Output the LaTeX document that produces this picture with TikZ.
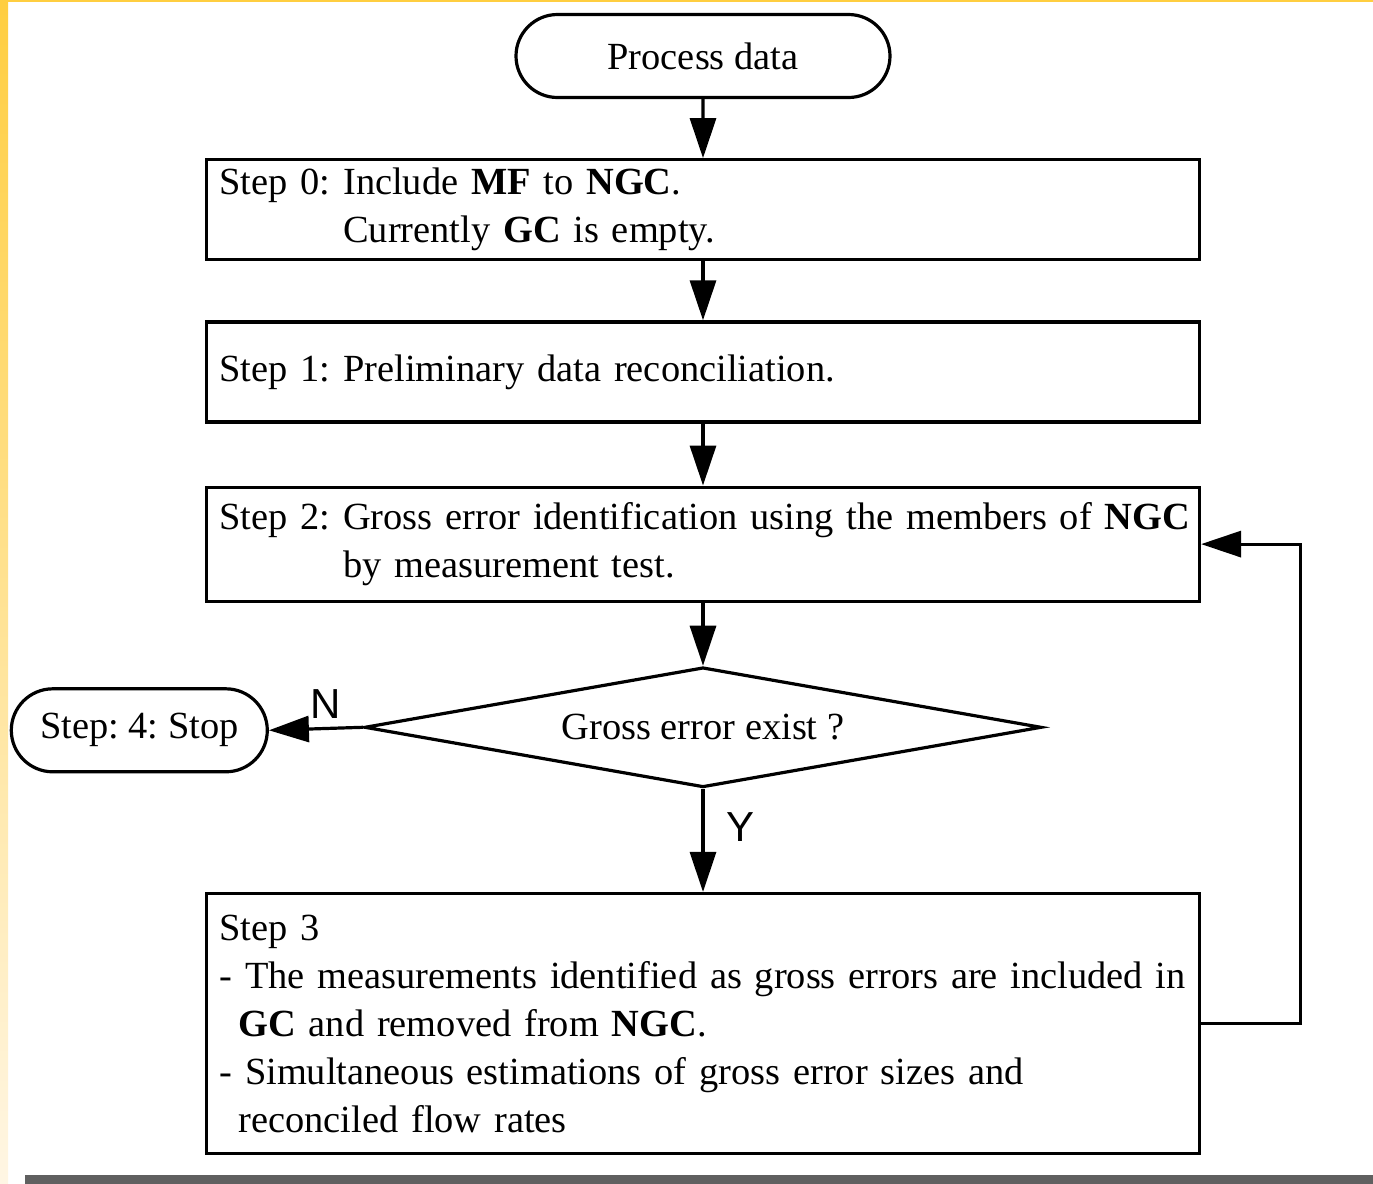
\documentclass[tikz,border=0pt]{standalone}
\usepackage{fontspec}
\setmainfont{Liberation Serif}
\newfontfamily\labelfont{Liberation Sans}
\usetikzlibrary{arrows.meta,positioning,shapes.geometric,shapes.misc}
\usepackage{xcolor}
\definecolor{FrameYellow}{RGB}{255,206,64}
\definecolor{FadeYellow}{RGB}{255,246,228}
\definecolor{BarGray}{RGB}{96,96,96}
\frenchspacing
\tikzset{
  terminal/.style={draw, rounded rectangle, line width=1.6pt,
    minimum height=41.5pt, inner sep=0pt, font=\fontsize{19.2}{24}\selectfont},
  stepbox/.style={draw, rectangle, line width=1.6pt, inner xsep=6.5pt,
    inner ysep=0pt, text width=483.5pt, align=left,
    font=\fontsize{19.2}{24}\selectfont},
  decision/.style={draw, diamond, line width=1.6pt, aspect=5.6, inner sep=0pt,
    minimum width=338.5pt, minimum height=60pt,
    font=\fontsize{19.2}{24}\selectfont},
  flowlabel/.style={inner sep=0pt, font=\labelfont\fontsize{21}{24}\selectfont},
  arrow/.style={-{Triangle[length=20pt,width=13pt]}, line width=1.6pt}
}

\begin{document}
\begin{tikzpicture}[x=0.5pt, y=-0.5pt, node distance=29.5pt]
  \useasboundingbox (0,0) rectangle (1373,1184);
  % frame of the slide
  \shade[top color=FrameYellow, bottom color=FadeYellow] (0,0) rectangle (8,1184);
  \fill[FrameYellow] (0,0) rectangle (1373,2);
  \fill[BarGray] (25,1175) rectangle (1373,1184);

  \node[terminal, minimum width=187pt] (process) at (703,56) {Process data};
  \node[stepbox, minimum height=50pt, below=of process] (step0) {
    Step 0: Include \textbf{MF} to \textbf{NGC}.\\
    \phantom{Step 0: }Currently \textbf{GC} is empty.
  };
  \node[stepbox, minimum height=50pt, below=of step0] (step1) {
    Step 1: Preliminary data reconciliation.
  };
  \node[stepbox, minimum height=57pt, below=31pt of step1] (step2) {
    \mbox{Step 2: Gross error identification using the members of \textbf{NGC}}\\
    \phantom{Step 2: }by measurement test.
  };
  \node[decision, below=31.5pt of step2] (exist) {Gross error exist ?};
  \node[terminal, minimum width=128pt, left=47pt of exist, yshift=-1.5pt] (stop) {Step: 4: Stop};
  \node[stepbox, minimum height=130pt, below=51.5pt of exist] (step3) {
    Step 3\\
    \mbox{- The measurements identified as gross errors are included in}\\
    \hspace*{9.5pt}\textbf{GC} and removed from \textbf{NGC}.\\
    - Simultaneous estimations of gross error sizes and\\
    \hspace*{9.5pt}reconciled flow rates
  };

  \draw[arrow] (process) -- (step0);
  \draw[arrow] (step0) -- (step1);
  \draw[arrow] (step1) -- (step2);
  \draw[arrow] (step2) -- (exist);
  \draw[arrow] (exist.west) -- node[flowlabel, above=4pt, pos=0.4] {N} (stop.east);
  \draw[arrow] (exist.south) -- node[flowlabel, right=11pt, pos=0.37] {Y} (step3.north);
  \draw[arrow] (step3.east) -- ++(99,0) |- (step2.east);
\end{tikzpicture}
\end{document}
